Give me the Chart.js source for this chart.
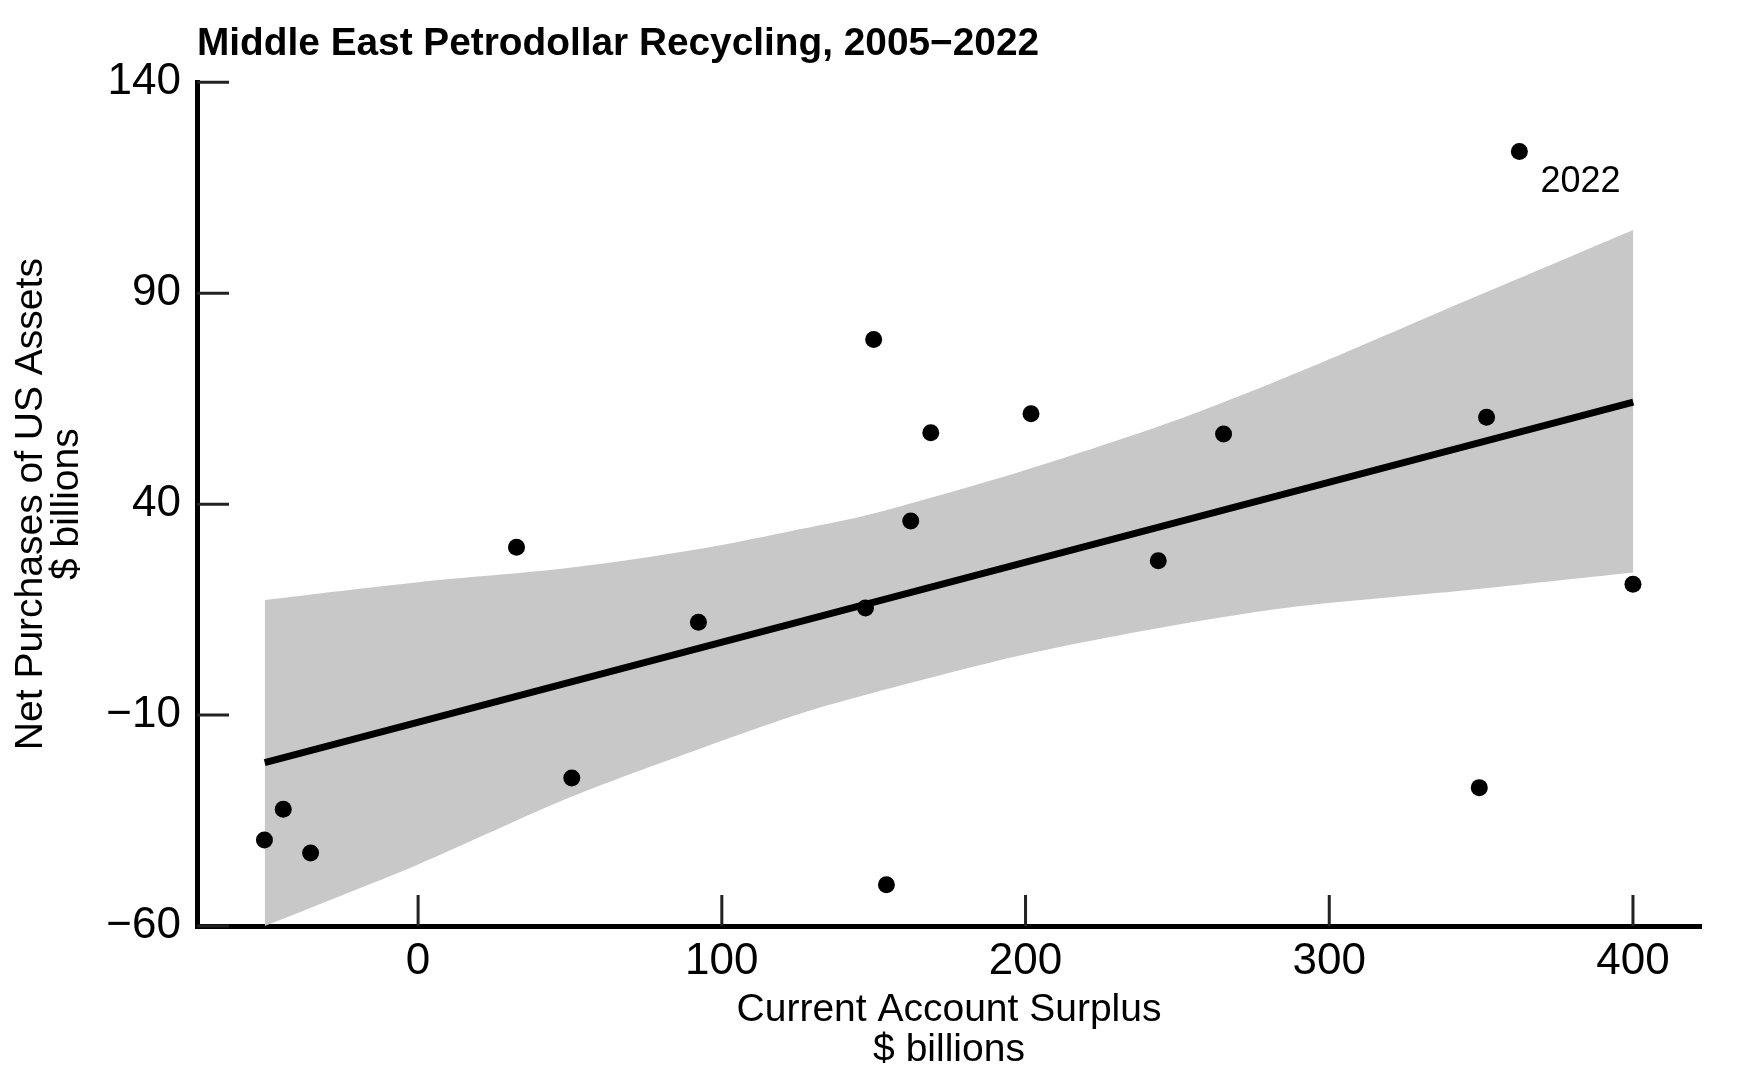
<!DOCTYPE html>
<html><head><meta charset="utf-8">
<script src="https://cdn.jsdelivr.net/npm/chart.js@4.4.0/dist/chart.umd.min.js"></script>
<style>html,body{margin:0;padding:0;background:#fff;}canvas{display:block;}</style>
</head><body>
<canvas id="c" width="1743" height="1081" style="width:1743px;height:1081px"></canvas>
<script>
// ---- data ----
const surplus   = [-50.6, -44.4, -35.4, 32.4, 50.6, 92.3, 147.3, 150.0, 154.2, 162.2, 168.8, 201.8, 243.7, 265.2, 349.4, 351.8, 362.6, 400.0];
const purchases = [-39.6, -32.3, -42.7, 29.8, -24.9, 12.0, 15.4, 79.0, -50.2, 36.0, 56.9, 61.4, 26.6, 56.6, -27.2, 60.6, 123.6, 21.0];
const labelIndex = 16;
const labelText = '2022';
const fitX = [-50.5, 400.1];
const fitY = [-21.3, 64.2];
const bandX     = [-50.5, 0, 50, 93, 126, 150, 200, 250, 290, 345, 400.1];
const bandUpper = [17.3, 21.5, 24.9, 29.4, 34.1, 37.8, 48.1, 60.0, 71.3, 88.2, 105.0];
const bandLower = [-60.0, -45.4, -29.5, -17.9, -9.6, -4.7, 4.4, 11.4, 15.8, 19.6, 23.8];
const xTicks = [0, 100, 200, 300, 400];
const yTicks = [-60, -10, 40, 90, 140];
const titleText = 'Middle East Petrodollar Recycling, 2005\u22122022';
const xTitle = ['Current Account Surplus', '$ billions'];
const yTitle = ['Net Purchases of US Assets', '$ billions'];

const FONT = "'Liberation Sans', Arial, Helvetica, sans-serif";
Chart.defaults.font.family = FONT;
Chart.defaults.color = '#000';

const pts = surplus.map((x, i) => ({x, y: purchases[i]}));
const fit = fitX.map((x, i) => ({x, y: fitY[i]}));
const lower = bandX.map((x, i) => ({x, y: bandLower[i]}));
const upper = bandX.map((x, i) => ({x, y: bandUpper[i]}));
const fmt = v => v < 0 ? '\u2212' + Math.abs(v) : String(v);

const innerTicks = {
  id: 'innerTicks',
  afterDraw(chart) {
    const {ctx, chartArea: a, scales: {x, y}} = chart;
    ctx.save();
    ctx.strokeStyle = '#222';
    ctx.lineWidth = 3;
    ctx.beginPath();
    xTicks.forEach(v => { const p = x.getPixelForValue(v); ctx.moveTo(p, a.bottom); ctx.lineTo(p, a.bottom - 31); });
    yTicks.forEach(v => { const p = y.getPixelForValue(v); ctx.moveTo(a.left, p); ctx.lineTo(a.left + 32, p); });
    ctx.stroke();
    ctx.restore();
  },
  afterDatasetsDraw(chart) {
    const {ctx, scales: {x, y}} = chart;
    const px = x.getPixelForValue(surplus[labelIndex]);
    const py = y.getPixelForValue(purchases[labelIndex]);
    ctx.save();
    ctx.fillStyle = '#000';
    ctx.font = '36px ' + FONT;
    ctx.textAlign = 'left';
    ctx.textBaseline = 'middle';
    ctx.fillText(labelText, px + 21, py + 31);
    ctx.restore();
  }
};

new Chart(document.getElementById('c'), {
  type: 'scatter',
  data: {
    datasets: [
      {label: 'points', data: pts, order: 0, pointRadius: 8.5, pointHoverRadius: 8.5,
       backgroundColor: '#000', borderColor: '#000', borderWidth: 0, showLine: false},
      {label: 'fit', data: fit, order: 1, showLine: true, pointRadius: 0,
       borderColor: '#000', borderWidth: 7, fill: false},
      {label: 'lower', data: lower, order: 3, showLine: true, pointRadius: 0, tension: 0.3,
       borderWidth: 0, borderColor: 'rgba(0,0,0,0)', fill: false},
      {label: 'upper', data: upper, order: 2, showLine: true, pointRadius: 0, tension: 0.3,
       borderWidth: 0, borderColor: 'rgba(0,0,0,0)', backgroundColor: '#c8c8c8', fill: '-1'}
    ]
  },
  options: {
    responsive: false,
    animation: false,
    devicePixelRatio: 1,
    layout: {padding: {left: 0, right: 42, top: 0, bottom: 0}},
    plugins: {
      legend: {display: false},
      tooltip: {enabled: false},
      title: {
        display: true, text: titleText, align: 'start', fullSize: false,
        color: '#000', font: {size: 38.8, weight: 'bold', family: FONT, lineHeight: 1.2},
        padding: {top: 21.2, bottom: 14.5}
      }
    },
    scales: {
      x: {
        type: 'linear', min: -72.8, max: 422.4,
        afterFit(s) { s.height = 155; },
        afterBuildTicks(s) { s.ticks = xTicks.map(v => ({value: v})); },
        grid: {display: false, drawTicks: false},
        border: {display: true, color: '#000', width: 5},
        ticks: {padding: 9, color: '#000', font: {size: 44, family: FONT, lineHeight: 1.2}, callback: fmt, maxRotation: 0, autoSkip: false},
        title: {display: true, text: xTitle, color: '#000', font: {size: 39, family: FONT, lineHeight: 1.04}, padding: {top: 0, bottom: 10}}
      },
      y: {
        type: 'linear', min: -60, max: 140,
        afterFit(s) { s.width = 197; },
        afterBuildTicks(s) { s.ticks = yTicks.map(v => ({value: v})); },
        grid: {display: false, drawTicks: false},
        border: {display: true, color: '#000', width: 5},
        ticks: {padding: 16, color: '#000', font: {size: 44, family: FONT, lineHeight: 1.2}, callback: fmt, autoSkip: false},
        title: {display: true, text: yTitle, color: '#000', font: {size: 39, family: FONT, lineHeight: 0.923}, padding: {top: 13, bottom: 0}}
      }
    }
  },
  plugins: [innerTicks]
});
</script>
</body></html>
